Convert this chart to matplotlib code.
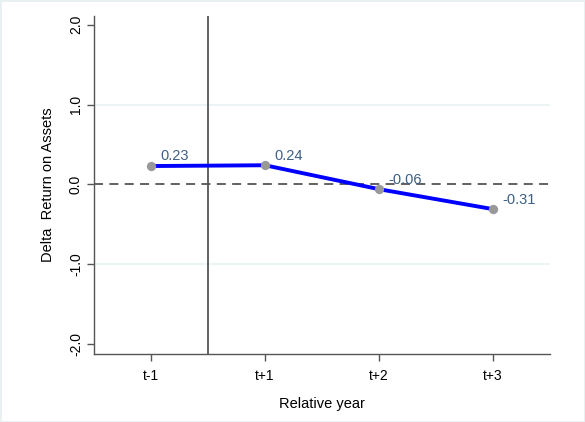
import matplotlib
matplotlib.use("Agg")
import matplotlib.pyplot as plt

# data
periods = ["t-1", "t+1", "t+2", "t+3"]
delta_roa = [0.23, 0.24, -0.06, -0.31]
yticks = [-2.0, -1.0, 0.0, 1.0, 2.0]

fig = plt.figure(figsize=(5.85, 4.22), dpi=100)
fig.patch.set_facecolor("white")
fig.patch.set_edgecolor("#e8f0f2")
fig.patch.set_linewidth(2)
ax = fig.add_axes([94 / 585, 68 / 422, 456 / 585, 338 / 422])

xs = list(range(len(periods)))

# light grid at +/-1 only
for g in (1.0, -1.0):
    ax.axhline(g, color="#eaf2f3", lw=1.2, zorder=0)

ax.axhline(0, color="#555555", lw=1.3, ls=(0, (5, 3.5)), zorder=1)
ax.axvline(0.5, color="#555555", lw=1.3, zorder=1)

ax.plot(xs, delta_roa, color="#0000ff", lw=2.8, zorder=2)
ax.scatter(xs, delta_roa, s=45, color="#999999", zorder=3, linewidths=0)

for x, v in zip(xs, delta_roa):
    ax.annotate(f"{v:.2f}", (x, v), xytext=(7, 4), textcoords="offset points",
                color="#3e5f84", fontsize=10.5, family="Liberation Sans")

ax.set_xlim(-0.5, 3.5)
ax.set_ylim(-2.125, 2.11)
ax.set_xticks(xs)
ax.set_xticklabels(periods, family="Liberation Sans", fontsize=10)
ax.set_yticks(yticks)
ax.set_yticklabels([f"{t:.1f}" for t in yticks], rotation=90, va="center",
                   family="Liberation Sans", fontsize=10)

for side in ("top", "right"):
    ax.spines[side].set_visible(False)
for side in ("left", "bottom"):
    ax.spines[side].set_color("#555555")
    ax.spines[side].set_linewidth(1.0)
ax.tick_params(axis="both", color="#555555", length=5, width=1.0)
ax.tick_params(axis="x", pad=6)
ax.tick_params(axis="y", pad=3)

ax.set_xlabel("Relative year", family="Liberation Sans", fontsize=10.5, labelpad=10)
ax.set_ylabel("Delta  Return on Assets", family="Liberation Sans", fontsize=10.5, labelpad=10)

fig.savefig("out.png", dpi=100)
